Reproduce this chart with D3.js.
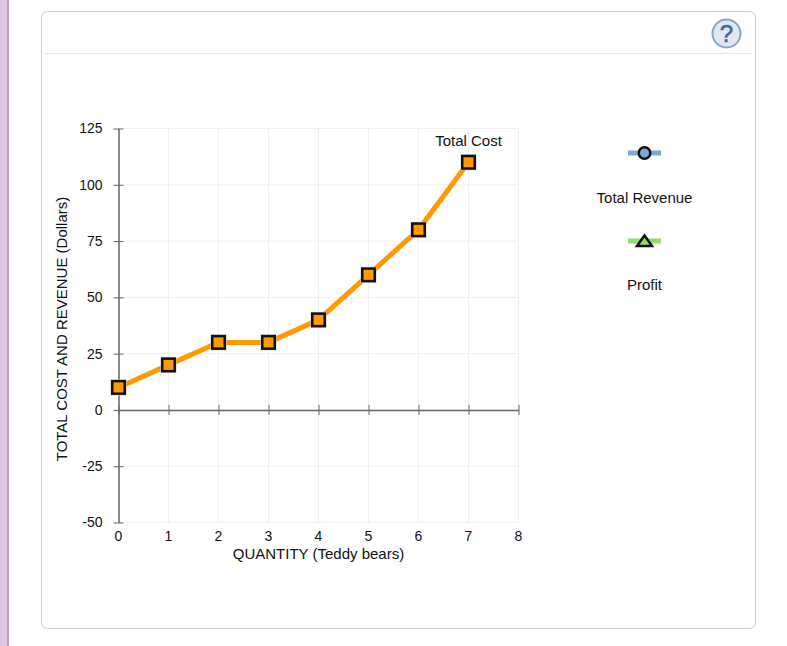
<!DOCTYPE html>
<html>
<head>
<meta charset="utf-8">
<script src="https://cdn.jsdelivr.net/npm/d3@7"></script>
<style>
	html, body { margin: 0; padding: 0; background: #fff; overflow: hidden; }
	svg { display: block; }
	text { font-family: 'Liberation Sans', Arial, sans-serif; font-size: 15px; fill: #111; }
</style>
</head>
<body>
<div id="chart"></div>
<script>
const quantity = [0, 1, 2, 3, 4, 5, 6, 7];
const totalCost = [10, 20, 30, 30, 40, 60, 80, 110];
const xTicks = [0, 1, 2, 3, 4, 5, 6, 7, 8];
const yTicks = [-50, -25, 0, 25, 50, 75, 100, 125];

const $svg = d3.select('#chart').append('svg')
	.attr('width', 787)
	.attr('height', 646);

// page furniture
$svg.append('rect').attr('x', 0).attr('y', 0).attr('width', 7).attr('height', 646).attr('fill', '#e0c8e0');
$svg.append('rect').attr('x', 7).attr('y', 0).attr('width', 2).attr('height', 646).attr('fill', '#b9a3b9');
$svg.append('rect')
	.attr('x', 41.5).attr('y', 11.5)
	.attr('width', 714).attr('height', 617)
	.attr('rx', 6)
	.attr('fill', '#fff')
	.attr('stroke', '#ccc');
$svg.append('line')
	.attr('x1', 44).attr('x2', 753)
	.attr('y1', 53.5).attr('y2', 53.5)
	.attr('stroke', '#e5e5e5');

// help button
const $help = $svg.append('g').attr('transform', 'translate(726.5, 33.5)');
$help.append('circle').attr('r', 14).attr('fill', '#dfe8f1').attr('stroke', '#86a7c8').attr('stroke-width', 2);
$help.append('text')
	.attr('y', 8.5)
	.attr('text-anchor', 'middle')
	.style('font-size', '24px')
	.style('fill', '#3f6b9c')
	.attr('stroke', '#3f6b9c')
	.attr('stroke-width', 0.6)
	.text('?');

// scales
const scaleX = d3.scaleLinear().domain([0, 8]).range([118.5, 518.5]);
const scaleY = d3.scaleLinear().domain([-50, 125]).range([522.5, 128.5]);

// grid
const $grid = $svg.append('g').attr('stroke', '#f0f0f0');
$grid.selectAll('.grid-x')
	.data(xTicks.slice(1))
	.join('line')
	.attr('class', 'grid-x')
	.attr('x1', d => scaleX(d)).attr('x2', d => scaleX(d))
	.attr('y1', scaleY(125)).attr('y2', scaleY(-50));
$grid.selectAll('.grid-y')
	.data(yTicks)
	.join('line')
	.attr('class', 'grid-y')
	.attr('x1', scaleX(0)).attr('x2', scaleX(8))
	.attr('y1', d => scaleY(d)).attr('y2', d => scaleY(d));

// axes
const $axisY = $svg.append('g')
	.attr('transform', `translate(${scaleX(0)}, 0)`)
	.call(d3.axisLeft(scaleY).tickValues(yTicks).tickSize(5).tickPadding(11).tickSizeOuter(0).tickFormat(d => String(d)));
$axisY.selectAll('.tick line').attr('x2', 5).attr('x1', -5);

const $axisZero = $svg.append('g')
	.attr('transform', `translate(0, ${scaleY(0)})`)
	.call(d3.axisBottom(scaleX).tickValues(xTicks).tickSize(5).tickFormat('').tickSizeOuter(0));
$axisZero.selectAll('.tick line').attr('y1', -5).attr('y2', 5);

$svg.selectAll('.domain, .tick line').attr('stroke', '#666').attr('stroke-width', 1);
$axisY.select('.domain').attr('stroke-width', 1.5);
$axisZero.select('.domain').attr('stroke-width', 1.5);
$axisY.selectAll('text').style('font-size', '14px').attr('fill', null);

// x tick labels sit below the plot, not on the zero axis
$svg.append('g').selectAll('text')
	.data(xTicks)
	.join('text')
	.attr('x', d => scaleX(d))
	.attr('y', 541)
	.attr('text-anchor', 'middle')
	.style('font-size', '14px')
	.text(d => d);

$svg.append('text')
	.attr('x', 318.5).attr('y', 559)
	.attr('text-anchor', 'middle')
	.text('QUANTITY (Teddy bears)');
$svg.append('text')
	.attr('transform', 'translate(67, 329) rotate(-90)')
	.attr('text-anchor', 'middle')
	.text('TOTAL COST AND REVENUE (Dollars)');

// total cost
const line = d3.line()
	.x((d, i) => scaleX(quantity[i]))
	.y(d => scaleY(d));
$svg.append('path')
	.datum(totalCost)
	.attr('d', line)
	.attr('fill', 'none')
	.attr('stroke', '#ff9900')
	.attr('stroke-width', 5);
// faint halo round each marker
$svg.selectAll('.cost-halo')
	.data(totalCost)
	.join('rect')
	.attr('class', 'cost-halo')
	.attr('x', (d, i) => scaleX(quantity[i]) - 8)
	.attr('y', d => scaleY(d) - 8)
	.attr('width', 16).attr('height', 16)
	.attr('fill', '#c8c8c8');
$svg.selectAll('.cost-point')
	.data(totalCost)
	.join('rect')
	.attr('class', 'cost-point')
	.attr('x', (d, i) => scaleX(quantity[i]) - 6.25)
	.attr('y', d => scaleY(d) - 6.25)
	.attr('width', 12.5).attr('height', 12.5)
	.attr('fill', '#ff9900')
	.attr('stroke', '#111')
	.attr('stroke-width', 2.5);
$svg.append('text')
	.attr('x', scaleX(7)).attr('y', 146)
	.attr('text-anchor', 'middle')
	.text('Total Cost');

// legend
const $rev = $svg.append('g').attr('transform', 'translate(644.5, 153)');
$rev.append('line').attr('x1', -16.5).attr('x2', 16.5).attr('stroke', '#7fa8d1').attr('stroke-width', 5);
$rev.append('circle').attr('r', 5.75).attr('fill', '#7fa8d1').attr('stroke', '#111').attr('stroke-width', 2.5);
$svg.append('text').attr('x', 644.5).attr('y', 203).attr('text-anchor', 'middle').text('Total Revenue');

const $profit = $svg.append('g').attr('transform', 'translate(644.5, 241)');
$profit.append('line').attr('x1', -16.5).attr('x2', 16.5).attr('stroke', '#8fdb6b').attr('stroke-width', 5);
$profit.append('path').attr('d', 'M0,-5.5L7.5,5L-7.5,5Z').attr('fill', '#8fdb6b').attr('stroke', '#111').attr('stroke-width', 2.5);
$svg.append('text').attr('x', 644.5).attr('y', 290).attr('text-anchor', 'middle').text('Profit');
</script>
</body>
</html>
